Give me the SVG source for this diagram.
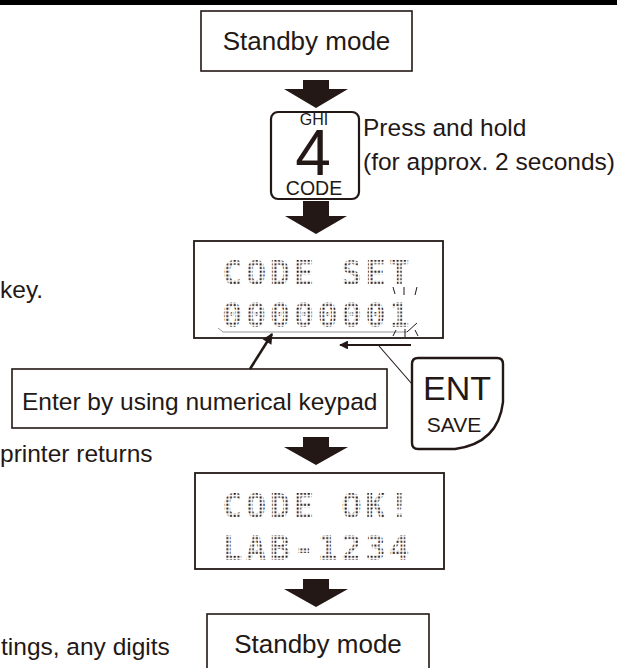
<svg xmlns="http://www.w3.org/2000/svg" width="617" height="668" viewBox="0 0 617 668">
<style>
.t{font-family:"Liberation Sans",Arial,sans-serif;fill:#231815}
.box{fill:#fff;stroke:#231815;stroke-width:1.6}
.lcd{fill:#fff;stroke:#231815;stroke-width:1.8}
.dm{font-family:"DejaVu Sans Mono",monospace;font-weight:bold;font-size:34px;letter-spacing:3.4px;fill:url(#dots)}
.blk{fill:#231815}
.thin{stroke:#231815;stroke-width:1;fill:none}
</style>
<defs>
<pattern id="dots" patternUnits="userSpaceOnUse" x="0" y="0" width="3.7" height="3.7">
<rect x="0.6" y="0.6" width="2" height="2" fill="#231815"/>
</pattern>
<marker id="ah" viewBox="0 0 10 10" refX="9" refY="5" markerWidth="5" markerHeight="4" orient="auto" markerUnits="strokeWidth">
<path d="M0,0 L10,5 L0,10 Z" fill="#231815"/>
</marker>
</defs>
<rect x="0" y="0" width="617" height="5" fill="#000"/>

<g id="left-text">
<text class="t" x="0" y="298" font-size="24.5">key.</text>
<text class="t" x="0" y="462" font-size="24.5">printer returns</text>
<text class="t" x="1" y="655" font-size="24.5">tings, any digits</text>
</g>

<g id="standby-top">
<rect class="box" x="201" y="11" width="211" height="60"/>
<text class="t" x="306.5" y="50" font-size="26" text-anchor="middle">Standby mode</text>
</g>

<g id="key-4">
<rect x="271" y="112" width="88" height="87" rx="7" fill="#fff" stroke="#231815" stroke-width="2.2"/>
<text class="t" x="314" y="124.5" font-size="16" text-anchor="middle">GHI</text>
<text class="t" x="313" y="175" font-size="64" text-anchor="middle">4</text>
<text class="t" x="314" y="195" font-size="19.5" text-anchor="middle">CODE</text>
</g>

<g id="press-hold">
<text class="t" x="363" y="136" font-size="24.5">Press and hold</text>
<text class="t" x="363" y="170" font-size="24.5">(for approx. 2 seconds)</text>
</g>

<g id="lcd-code-set">
<rect class="lcd" x="194" y="241" width="249" height="97"/>
<text class="dm" x="222" y="285">CODE SET</text>
<text class="dm" x="222" y="327">00000001</text>
<path d="M218,328 L223,332 H407" fill="none" stroke="#999" stroke-width="1"/>
<path class="thin" d="M393,287 L395,294 M404,287 L404,295 M417,287 L415,295 M393,336 L396,330 M405,337 L405,329 M418,336 L415,330 M407,332 L417,323"/>
</g>

<g id="enter-note">
<rect class="box" x="12" y="369" width="375" height="59"/>
<text class="t" x="22" y="410" font-size="24.5">Enter by using numerical keypad</text>
</g>

<g id="ent-key">
<path d="M418,358 H497 Q503,358 503,364 V402 C500,428 485,445 455,449 H418 Q412,449 412,443 V364 Q412,358 418,358 Z" fill="#fff" stroke="#231815" stroke-width="2.4"/>
<text class="t" x="457" y="400" font-size="34" text-anchor="middle">ENT</text>
<text class="t" x="454" y="432" font-size="21" text-anchor="middle">SAVE</text>
</g>

<g id="lcd-code-ok">
<rect class="lcd" x="195" y="473" width="249" height="96"/>
<text class="dm" x="222" y="518">CODE OK!</text>
<text class="dm" x="222" y="560">LAB-1234</text>
</g>

<g id="standby-bottom">
<rect class="box" x="207" y="614" width="222" height="70"/>
<text class="t" x="318" y="653" font-size="26" text-anchor="middle">Standby mode</text>
</g>

<g id="connectors">
<path class="blk" d="M303,80 H329 V89 H348 L316,108 L284,89 H303 Z"/>
<path class="blk" d="M303,201 H329 V216 H347 L316,234 L285,216 H303 Z"/>
<path class="blk" d="M303,437 H329 V447 H348 L316,465 L284,447 H303 Z"/>
<path class="blk" d="M303,579 H329 V589 H348 L316,607 L284,589 H303 Z"/>
<line x1="250" y1="369" x2="272" y2="334" stroke="#231815" stroke-width="2.6" marker-end="url(#ah)"/>
<line x1="411" y1="345" x2="340" y2="345" stroke="#231815" stroke-width="2.2" marker-end="url(#ah)"/>
<line x1="379" y1="346" x2="412" y2="384" stroke="#231815" stroke-width="1.1"/>
</g>
</svg>
